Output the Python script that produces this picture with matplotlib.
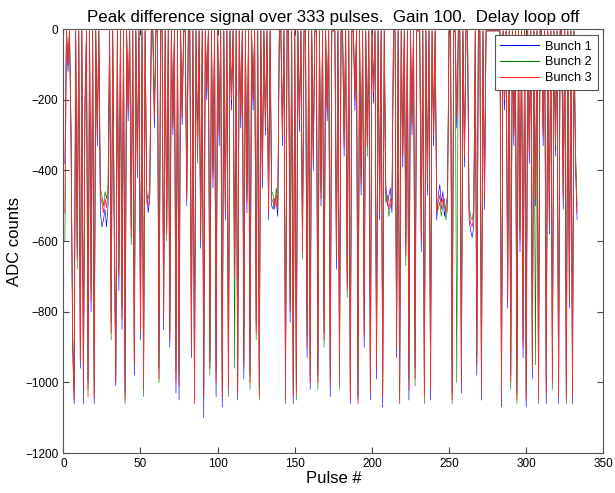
import numpy as np
import matplotlib.pyplot as plt

# peak difference signal per pulse, three bunches (ADC counts)
bunch3 = [
    -520, -5, -100, -5, -310, -870, -1050, -5, -650, -5,
    -940, -5, -1010, -230, -5, -1040, -5, -770, -5, -1045,
    -5, -300, -5, -470, -490, -520, -480, -505, -460, -5,
    -860, -5, -560, -1000, -5, -700, -5, -820, -5, -1050,
    -5, -230, -5, -590, -5, -950, -5, -400, -5, -860,
    -5, -1020, -5, -490, -500, -470, -5, -5, -250, -5,
    -5, -990, -5, -5, -820, -5, -580, -5, -880, -5,
    -280, -5, -1000, -5, -1010, -5, -250, -5, -5, -480,
    -5, -5, -900, -5, -1060, -5, -360, -5, -600, -5,
    -1040, -5, -170, -5, -960, -5, -420, -5, -1000, -5,
    -300, -5, -1040, -5, -520, -5, -1020, -5, -200, -5,
    -700, -5, -1030, -5, -250, -5, -960, -5, -490, -5,
    -1000, -5, -200, -5, -860, -5, -1040, -5, -420, -5,
    -280, -5, -520, -5, -480, -490, -500, -470, -510, -5,
    -5, -300, -5, -1050, -5, -5, -800, -5, -1040, -5,
    -1030, -5, -260, -5, -630, -5, -5, -900, -5, -1000,
    -5, -370, -5, -5, -1000, -5, -480, -5, -880, -5,
    -230, -5, -1010, -5, -5, -5, -650, -5, -1000, -5,
    -5, -330, -5, -740, -5, -1050, -5, -5, -200, -5,
    -1060, -5, -440, -5, -870, -5, -330, -5, -1030, -5,
    -180, -5, -960, -5, -520, -5, -1040, -5, -470, -490,
    -510, -480, -500, -5, -5, -900, -5, -1060, -5, -360,
    -5, -640, -5, -1020, -5, -270, -5, -990, -5, -5,
    -5, -600, -5, -1040, -5, -440, -5, -1020, -5, -300,
    -5, -520, -490, -470, -510, -480, -500, -520, -490, -5,
    -5, -1050, -5, -5, -250, -5, -5, -1000, -5, -360,
    -5, -5, -520, -550, -560, -530, -5, -950, -5, -5,
    -1020, -5, -480, -5, -5, -5, -5, -5, -5, -5,
    -5, -5, -5, -1040, -5, -200, -5, -760, -5, -1000,
    -5, -300, -5, -1050, -5, -600, -5, -900, -5, -1050,
    -5, -350, -5, -960, -5, -480, -5, -1050, -5, -5,
    -300, -5, -1030, -5, -550, -5, -1000, -5, -330, -5,
    -1040, -5, -5, -480, -5, -1050, -5, -760, -5, -1040,
    -5, -370, -520,
]

bunch1 = [
    -380, -5, -120, -5, -280, -900, -1060, -5, -620, -5,
    -960, -5, -1060, -200, -5, -1000, -5, -800, -5, -1060,
    -5, -330, -5, -520, -560, -540, -510, -560, -500, -5,
    -830, -5, -590, -1010, -5, -740, -5, -850, -5, -1030,
    -5, -260, -5, -560, -5, -980, -5, -420, -5, -880,
    -5, -1000, -5, -450, -520, -480, -5, -5, -280, -5,
    -5, -960, -5, -5, -850, -5, -560, -5, -900, -5,
    -300, -5, -1030, -5, -1050, -5, -270, -5, -5, -500,
    -5, -5, -930, -5, -1040, -5, -330, -5, -620, -5,
    -1100, -5, -200, -5, -940, -5, -450, -5, -1040, -5,
    -330, -5, -1070, -5, -540, -5, -1000, -5, -230, -5,
    -680, -5, -1050, -5, -280, -5, -990, -5, -520, -5,
    -980, -5, -230, -5, -830, -5, -1020, -5, -450, -5,
    -300, -5, -540, -5, -500, -510, -480, -490, -530, -5,
    -5, -330, -5, -1030, -5, -5, -830, -5, -1060, -5,
    -1010, -5, -290, -5, -610, -5, -5, -930, -5, -1020,
    -5, -400, -5, -5, -980, -5, -500, -5, -860, -5,
    -260, -5, -1040, -5, -5, -5, -680, -5, -970, -5,
    -5, -360, -5, -720, -5, -1060, -5, -5, -230, -5,
    -1040, -5, -470, -5, -900, -5, -300, -5, -1050, -5,
    -210, -5, -990, -5, -540, -5, -1070, -5, -440, -500,
    -470, -450, -520, -5, -5, -930, -5, -1040, -5, -390,
    -5, -610, -5, -1050, -5, -300, -5, -960, -5, -5,
    -5, -630, -5, -1020, -5, -470, -5, -1050, -5, -330,
    -5, -540, -470, -440, -490, -460, -530, -500, -470, -5,
    -5, -1030, -5, -5, -280, -5, -5, -1030, -5, -390,
    -5, -5, -540, -570, -590, -560, -5, -980, -5, -5,
    -1050, -5, -510, -5, -5, -5, -5, -5, -5, -5,
    -5, -5, -5, -1070, -5, -230, -5, -790, -5, -980,
    -5, -330, -5, -1030, -5, -630, -5, -930, -5, -1070,
    -5, -380, -5, -990, -5, -500, -5, -1030, -5, -5,
    -330, -5, -1060, -5, -580, -5, -970, -5, -360, -5,
    -1060, -5, -5, -510, -5, -1030, -5, -790, -5, -1060,
    -5, -400, -540,
]

bunch2 = [
    -600, -5, -80, -5, -330, -840, -1020, -5, -680, -5,
    -910, -5, -990, -250, -5, -1020, -5, -740, -5, -1030,
    -5, -280, -5, -450, -470, -500, -460, -480, -440, -5,
    -880, -5, -530, -980, -5, -680, -5, -790, -5, -1060,
    -5, -210, -5, -610, -5, -930, -5, -370, -5, -840,
    -5, -1040, -5, -470, -480, -450, -5, -5, -230, -5,
    -5, -1000, -5, -5, -790, -5, -600, -5, -860, -5,
    -260, -5, -970, -5, -980, -5, -230, -5, -5, -460,
    -5, -5, -880, -5, -1050, -5, -380, -5, -580, -5,
    -1020, -5, -150, -5, -980, -5, -400, -5, -970, -5,
    -280, -5, -1010, -5, -500, -5, -1040, -5, -180, -5,
    -960, -5, -1010, -5, -230, -5, -940, -5, -470, -5,
    -1020, -5, -180, -5, -880, -5, -1050, -5, -400, -5,
    -260, -5, -500, -5, -460, -470, -510, -450, -490, -5,
    -5, -280, -5, -1060, -5, -5, -780, -5, -1020, -5,
    -1050, -5, -240, -5, -650, -5, -5, -870, -5, -980,
    -5, -340, -5, -5, -1020, -5, -460, -5, -900, -5,
    -210, -5, -990, -5, -5, -5, -620, -5, -1020, -5,
    -5, -300, -5, -760, -5, -1030, -5, -5, -180, -5,
    -1050, -5, -420, -5, -850, -5, -360, -5, -1010, -5,
    -160, -5, -940, -5, -500, -5, -1020, -5, -490, -470,
    -530, -500, -480, -5, -5, -880, -5, -1050, -5, -340,
    -5, -670, -5, -990, -5, -250, -5, -1010, -5, -5,
    -5, -580, -5, -1060, -5, -420, -5, -990, -5, -280,
    -5, -500, -510, -490, -530, -500, -480, -540, -510, -5,
    -5, -1060, -5, -5, -1000, -5, -5, -980, -5, -340,
    -5, -5, -500, -530, -540, -510, -5, -930, -5, -5,
    -990, -5, -460, -5, -5, -5, -5, -5, -5, -5,
    -5, -5, -5, -1010, -5, -180, -5, -730, -5, -1020,
    -5, -280, -5, -1060, -5, -570, -5, -880, -5, -1030,
    -5, -320, -5, -940, -5, -950, -5, -1060, -5, -5,
    -280, -5, -1000, -5, -520, -5, -1020, -5, -300, -5,
    -1020, -5, -5, -460, -5, -1060, -5, -730, -5, -1020,
    -5, -340, -500,
]

pulse = np.arange(1, len(bunch3) + 1)

plt.rcParams['font.family'] = ['Liberation Sans', 'DejaVu Sans']

fig = plt.figure(figsize=(6.15, 4.93), dpi=100)
ax = fig.add_axes([0.103, 0.081, 0.878, 0.860])

ax.plot(pulse, bunch1, color='#0000ff', linewidth=0.45, label='Bunch 1')
ax.plot(pulse, bunch2, color='#008000', linewidth=0.45, label='Bunch 2')
ax.plot(pulse, bunch3, color='#ff2a2a', linewidth=0.6, label='Bunch 3')

ax.set_xlim(0, 350)
ax.set_ylim(-1200, 0)
ax.set_xticks(range(0, 351, 50))
ax.set_yticks(range(-1200, 1, 200))
ax.tick_params(direction='in', top=True, right=True, labelsize=8.5,
               length=4, color='#444444')
for s in ax.spines.values():
    s.set_color('#555555')
    s.set_linewidth(0.8)

ax.set_title('Peak difference signal over 333 pulses.  Gain 100.  Delay loop off',
             fontsize=12.2, pad=5)
ax.set_xlabel('Pulse #', fontsize=12, labelpad=1)
ax.set_ylabel('ADC counts', fontsize=12, labelpad=2)

leg = ax.legend(loc='upper right', fontsize=9.2, handlelength=3.0,
                handletextpad=0.5, fancybox=False, framealpha=1,
                borderpad=0.45, labelspacing=0.3, borderaxespad=0.45)
leg.get_frame().set_edgecolor('#555555')
leg.get_frame().set_linewidth(0.8)
for line in leg.get_lines():
    line.set_linewidth(0.8)

plt.savefig('out.png', dpi=100)
